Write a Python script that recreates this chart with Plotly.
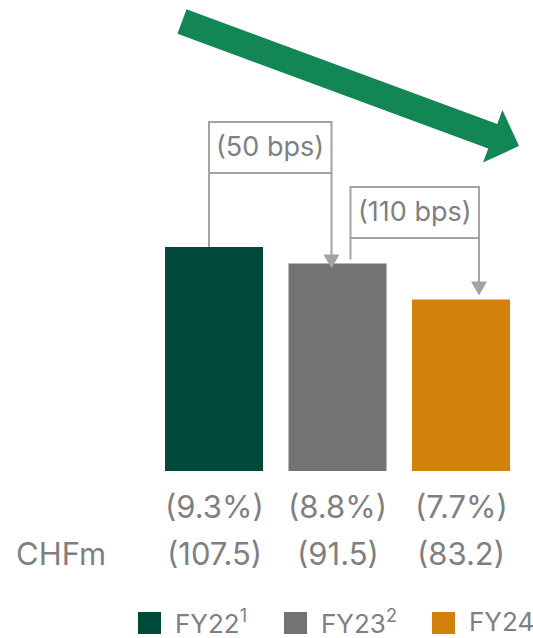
import plotly.graph_objects as go

# --- data -------------------------------------------------------------
years = ["FY22", "FY23", "FY24"]
legend_labels = ["FY22<sup>1</sup>", "FY23<sup>2</sup>", "FY24"]
margin_pct = [9.3, 8.8, 7.7]          # cost ratio, % (shown in brackets)
chf_m = [107.5, 91.5, 83.2]           # CHF millions
bps_changes = ["(50 bps)", "(110 bps)"]
colors = ["#00483a", "#737373", "#d3800d"]

# --- layout helpers (pixel <-> axis units) ------------------------------
W, H = 533, 638
BAR_FLOOR_PX = 471      # pixel row where bars start
PX_PER_UNIT_Y = 32.8
BASE = 2.47             # axis value sitting on the bar floor
PX_PER_CAT = 123.5
FIRST_CAT_PX = 214


def ydat(py):
    return BASE + (BAR_FLOOR_PX - py) / PX_PER_UNIT_Y


def ypix(v):
    return BAR_FLOOR_PX - (v - BASE) * PX_PER_UNIT_Y


def xdat(px):
    return (px - FIRST_CAT_PX) / PX_PER_CAT


def xpix(i):
    return FIRST_CAT_PX + i * PX_PER_CAT


def pap(px, py):
    return px / W, 1 - py / H


FONT = "Inter"
TXT = "#7f7f7f"
LINE = "#a3a3a3"


def label(x, y, text, size, xref="paper", yref="paper", xanchor="center"):
    return dict(x=x, y=y, xref=xref, yref=yref, text=text, showarrow=False,
                xanchor=xanchor, yanchor="middle",
                font=dict(family=FONT, size=size, color=TXT))


fig = go.Figure()
fig.add_trace(go.Bar(
    x=list(range(len(years))),
    y=[v - BASE for v in margin_pct],
    base=BASE,
    width=98 / PX_PER_CAT,
    marker=dict(color=colors, line=dict(width=0)),
    showlegend=False,
    hoverinfo="skip",
))

shapes = []
annotations = []

# --- bracket connectors with change labels ------------------------------
brackets = [
    # (from idx, to idx, box top px, box bottom px, left dx, right dx, tip offset)
    (0, 1, 122, 173, -5, -6, 5),
    (1, 2, 187, 238, 13, 18, -4),
]
for k, (a, b, top, bot, dl, dr, tip) in enumerate(brackets):
    xl = xpix(a) + dl
    xr = xpix(b) + dr
    shapes.append(dict(type="rect", xref="paper", yref="paper",
                       x0=xl / W, x1=xr / W, y0=1 - bot / H, y1=1 - top / H,
                       line=dict(color=LINE, width=2), fillcolor="rgba(0,0,0,0)"))
    start_top = ypix(margin_pct[a])
    end_left = start_top if k == 0 else start_top - 4
    shapes.append(dict(type="line", xref="paper", yref="paper",
                       x0=xl / W, x1=xl / W, y0=1 - bot / H, y1=1 - end_left / H,
                       line=dict(color=LINE, width=2)))
    tip_y = ypix(margin_pct[b]) + tip
    head = 14
    shapes.append(dict(type="line", xref="paper", yref="paper",
                       x0=xr / W, x1=xr / W, y0=1 - bot / H, y1=1 - (tip_y - head + 1) / H,
                       line=dict(color=LINE, width=2)))
    p1 = pap(xr - 8, tip_y - head)
    p2 = pap(xr + 8, tip_y - head)
    p3 = pap(xr, tip_y)
    shapes.append(dict(type="path", xref="paper", yref="paper",
                       path=f"M {p1[0]},{p1[1]} L {p2[0]},{p2[1]} L {p3[0]},{p3[1]} Z",
                       fillcolor=LINE, line=dict(width=0)))
    cx, cy = pap((xl + xr) / 2, (top + bot) / 2 - 1)
    annotations.append(label(cx, cy, bps_changes[k], 27))

# --- big downward trend arrow -------------------------------------------
tail = (182, 21.5)
tipp = (519, 146)
dx, dy = tipp[0] - tail[0], tipp[1] - tail[1]
L = (dx * dx + dy * dy) ** 0.5
ux, uy = dx / L, dy / L
nx, ny = -uy, ux
hl, hw, sw = 28, 28, 13
bx, by = tipp[0] - hl * ux, tipp[1] - hl * uy
pts = [
    (tail[0] + sw * nx, tail[1] + sw * ny),
    (bx + sw * nx, by + sw * ny),
    (bx + hw * nx, by + hw * ny),
    tipp,
    (bx - hw * nx, by - hw * ny),
    (bx - sw * nx, by - sw * ny),
    (tail[0] - sw * nx, tail[1] - sw * ny),
]
ppts = [pap(*p) for p in pts]
path = "M " + " L ".join(f"{x},{y}" for x, y in ppts) + " Z"
shapes.append(dict(type="path", xref="paper", yref="paper", path=path,
                   fillcolor="#138655", line=dict(width=0)))

# --- value rows under the bars --------------------------------------------
for i in range(len(years)):
    annotations.append(label(i, ydat(506), f"({margin_pct[i]}%)", 31, "x", "y"))
    annotations.append(label(i, ydat(553), f"({chf_m[i]})", 31, "x", "y"))
annotations.append(label(61 / W, 1 - 553 / H, "CHFm", 31))

# --- legend ---------------------------------------------------------------
legend_sq_x = [138, 284, 432]
for i in range(len(years)):
    x0 = legend_sq_x[i]
    shapes.append(dict(type="rect", xref="paper", yref="paper",
                       x0=x0 / W, x1=(x0 + 23) / W, y0=1 - 634 / H, y1=1 - 612 / H,
                       fillcolor=colors[i], line=dict(width=0)))
    annotations.append(label((x0 + 35) / W, 1 - 621 / H, legend_labels[i], 26,
                             xanchor="left"))

fig.update_layout(
    width=W, height=H,
    margin=dict(l=0, r=0, t=0, b=0),
    paper_bgcolor="white", plot_bgcolor="white",
    xaxis=dict(range=[xdat(0), xdat(W)], visible=False, fixedrange=True),
    yaxis=dict(range=[ydat(H), ydat(0)], visible=False, fixedrange=True),
    shapes=shapes,
    annotations=annotations,
    showlegend=False,
)

fig.write_html("out.html")
